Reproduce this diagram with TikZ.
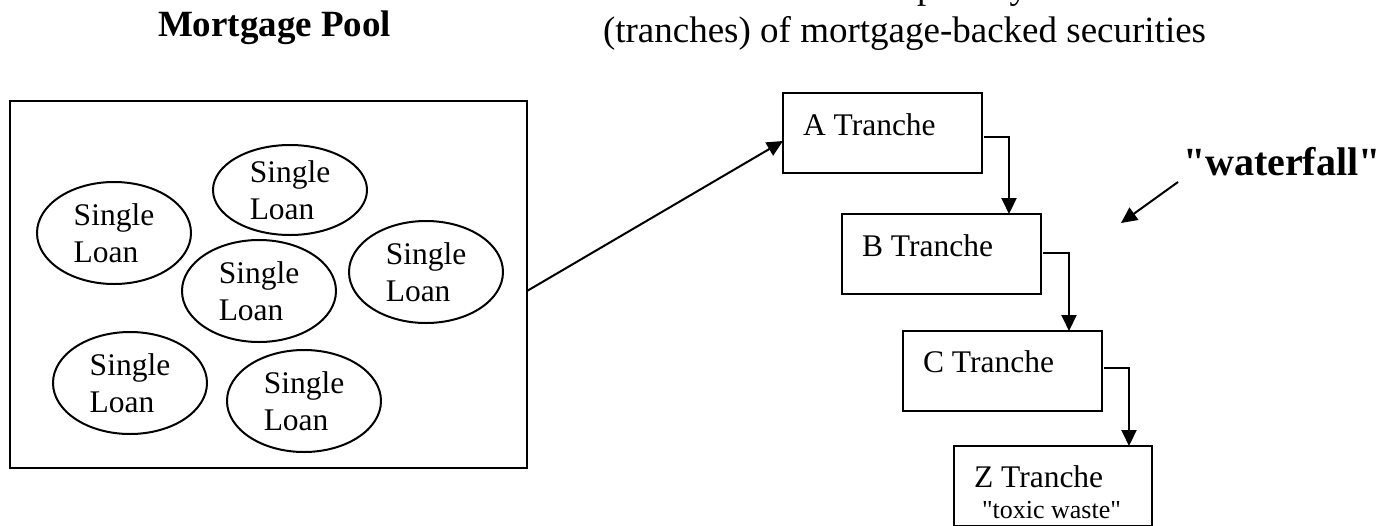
\documentclass[tikz,border=0pt]{standalone}
\usepackage{fontspec}
% plain family: keeps the straight " character as typed
\newfontfamily\lserif{Liberation Serif}
\usetikzlibrary{shapes.geometric,arrows.meta,calc}

\begin{document}
\begin{tikzpicture}[x=1pt,y=-1pt,
  every node/.style={inner sep=0pt, outer sep=0pt},
  txt/.style={font=\lserif\fontsize{31.5}{37.5}\selectfont},
  loan/.style={txt, draw, line width=2pt, ellipse, minimum width=154pt,
    minimum height=102pt, align=left},
  tbox/.style={draw, line width=2pt, minimum width=199pt, minimum height=80pt},
  ttext/.style={txt, anchor=base west},
  conn/.style={line width=2pt, -{Triangle[width=15pt,length=16pt]}},
  title/.style={anchor=base west, font=\lserif\fontsize{37}{42}\selectfont}]

\useasboundingbox (0,0) rectangle (1388,525);
\clip (0,0) rectangle (1388,525);

% headings
\node[title, font=\lserif\bfseries\fontsize{37}{42}\selectfont] (pooltitle) at (158,36) {Mortgage Pool};
\node[title] (prio) at (917,-1.5) {priority};
\node[title] (mbs) at (603,42) {(tranches) of mortgage-backed securities};

% the pool of loans
\node[draw, line width=2pt, minimum width=517pt, minimum height=367pt] (pool) at (268.5,284.5) {};
\node[loan] (e1) at (114,233) {Single\\Loan};
\node[loan, minimum height=90pt] (e2) at (290,190) {Single\\Loan};
\node[loan] (e3) at (259,291) {Single\\Loan};
\node[loan] (e4) at (426,272) {Single\\Loan};
\node[loan] (e5) at (130,383) {Single\\Loan};
\node[loan] (e6) at (304,401) {Single\\Loan};

% tranches
\node[tbox] (A) at (882.5,133) {};
\node[tbox] (B) at (941.5,254) {};
\node[tbox] (C) at (1002.5,371) {};
\node[tbox, minimum width=198pt] (Z) at (1053,486) {};

\node[ttext] (At) at ($(A.north west)+(20,42)$) {A Tranche};
\node[ttext] (Bt) at ($(B.north west)+(20,42)$) {B Tranche};
\node[ttext] (Ct) at ($(C.north west)+(20,41)$) {C Tranche};
\node[ttext] (Zt) at ($(Z.north west)+(20,41)$) {Z Tranche};
\node[anchor=base west, font=\lserif\fontsize{26}{30}\selectfont] (Zs) at ($(Z.north west)+(28,72)$) {"toxic waste"};

% pool feeds the top tranche
\draw[conn] ($(pool.east)+(0,6.5)$) -- ($(A.west)+(0,8)$);

% waterfall from tranche to tranche
\draw[conn] ($(A.north east)+(2,44)$) -- ++(25,0) coordinate (ab) -- (ab |- B.north);
\draw[conn] ($(B.north east)+(2,39)$) -- ++(26,0) coordinate (bc) -- (bc |- C.north);
\draw[conn] ($(C.north east)+(2,37)$) -- ++(25,0) coordinate (cz) -- (cz |- Z.north);

% waterfall label
\node[anchor=base west, font=\lserif\bfseries\fontsize{40}{48}\selectfont] (wf) at (1183,175) {"waterfall"};
\coordinate (wfs) at ($(wf.base west)+(-5,7)$);
\coordinate (wfe) at ($(wf.base west)+(-62,48)$);
\draw[conn] (wfs) -- (wfe);

\end{tikzpicture}
\end{document}
